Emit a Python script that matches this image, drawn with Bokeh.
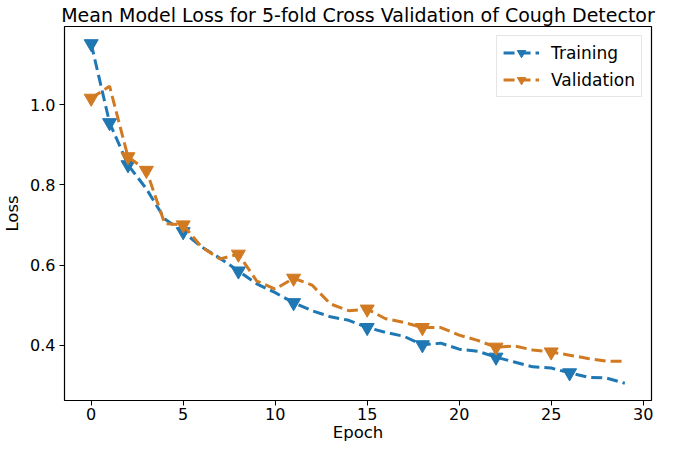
from bokeh.plotting import figure
from bokeh.models import Range1d, FixedTicker, Legend, LegendItem, PrintfTickFormatter
from bokeh.embed import file_html
from bokeh.resources import INLINE

epochs = list(range(30))
training_loss = [1.152, 0.955, 0.850, 0.790, 0.715, 0.683, 0.645, 0.617, 0.585, 0.553,
                 0.531, 0.506, 0.486, 0.471, 0.462, 0.444, 0.432, 0.422, 0.401, 0.405,
                 0.390, 0.385, 0.370, 0.358, 0.346, 0.343, 0.331, 0.320, 0.318, 0.305]
validation_loss = [1.016, 1.046, 0.870, 0.836, 0.703, 0.700, 0.645, 0.615, 0.627, 0.560,
                   0.540, 0.567, 0.550, 0.503, 0.486, 0.490, 0.466, 0.457, 0.444, 0.444,
                   0.425, 0.412, 0.395, 0.398, 0.388, 0.383, 0.375, 0.367, 0.360, 0.360]
training_marks = [0, 1, 2, 5, 8, 11, 15, 18, 22, 26]
validation_marks = [0, 2, 3, 5, 8, 11, 15, 18, 22, 25]
x_ticks = [0, 5, 10, 15, 20, 25, 30]
y_ticks = [0.4, 0.6, 0.8, 1.0]

BLUE = "#1f77b4"
ORANGE = "#d17a22"
FONT = "DejaVu Sans"

p = figure(width=669, height=444, output_backend="svg", toolbar_location=None,
           x_range=Range1d(-1.45, 30.45), y_range=Range1d(0.262, 1.195),
           min_border_left=55, min_border_right=18, min_border_top=22, min_border_bottom=30)

p.title.text = "Mean Model Loss for 5-fold Cross Validation of Cough Detector"
p.title.align = "center"
p.title.text_font = FONT
p.title.text_font_size = "19px"
p.title.text_font_style = "normal"
p.title.text_color = "black"
p.title.standoff = 2
p.title.offset = 0

p.outline_line_color = "black"
p.outline_line_width = 1.2
p.outline_line_alpha = 1
p.xgrid.visible = False
p.ygrid.visible = False

for ax in (p.xaxis[0], p.yaxis[0]):
    ax.axis_line_color = None
    ax.major_tick_in = 0
    ax.major_tick_out = 5
    ax.major_tick_line_color = "black"
    ax.minor_tick_line_color = None
    ax.major_label_text_font = FONT
    ax.major_label_text_font_size = "16px"
    ax.major_label_text_color = "black"
    ax.axis_label_text_font = FONT
    ax.axis_label_text_font_size = "16.5px"
    ax.axis_label_text_font_style = "normal"
    ax.axis_label_text_color = "black"

p.xaxis.ticker = FixedTicker(ticks=x_ticks)
p.yaxis.ticker = FixedTicker(ticks=y_ticks)
p.yaxis.formatter = PrintfTickFormatter(format="%.1f")
p.xaxis.axis_label = "Epoch"
p.yaxis.axis_label = "Loss"
p.xaxis.major_label_standoff = 2
p.xaxis.axis_label_standoff = 0
p.yaxis.major_label_standoff = 4
p.yaxis.axis_label_standoff = 5

tl = p.line(epochs, training_loss, line_color=BLUE, line_width=3, line_dash="11 5")
ts = p.scatter([epochs[i] for i in training_marks], [training_loss[i] for i in training_marks],
               marker="inverted_triangle", size=14, fill_color=BLUE, line_color=BLUE)
vl = p.line(epochs, validation_loss, line_color=ORANGE, line_width=3, line_dash="11 5")
vs = p.scatter([epochs[i] for i in validation_marks], [validation_loss[i] for i in validation_marks],
               marker="inverted_triangle", size=14, fill_color=ORANGE, line_color=ORANGE)

legend = Legend(items=[LegendItem(label="Training", renderers=[tl, ts]),
                       LegendItem(label="Validation", renderers=[vl, vs])],
                location="top_right")
legend.label_text_font = FONT
legend.label_text_font_size = "17px"
legend.label_text_color = "black"
legend.border_line_color = "#cccccc"
legend.border_line_width = 1
legend.background_fill_alpha = 0.8
legend.glyph_width = 36
legend.glyph_height = 21
legend.label_height = 21
legend.spacing = 6
legend.padding = 6
legend.margin = 9
legend.label_standoff = 12
p.add_layout(legend)

open("out.html", "w").write(file_html(p, INLINE))
